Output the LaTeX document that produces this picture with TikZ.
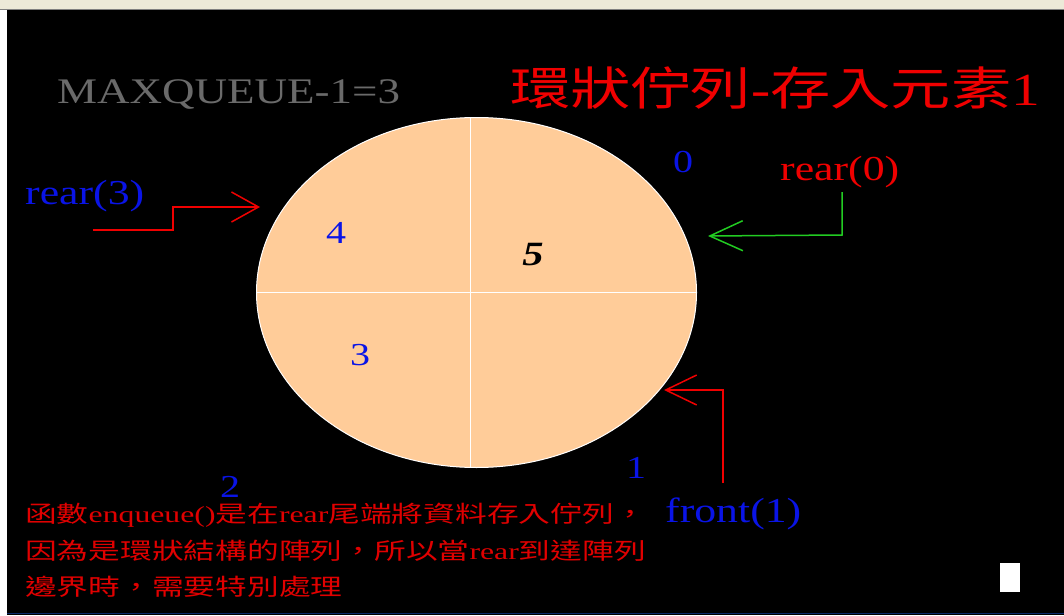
\documentclass[tikz,border=0pt]{standalone}
\usepackage{fontspec}
\setmainfont[FakeStretch=1.25]{Liberation Serif}
\newfontfamily\cjk[FakeStretch=1.31]{Noto Sans CJK TC}
\newfontfamily\cjkb[FakeStretch=1.38]{Noto Sans CJK TC}
\newfontfamily\serb[FakeStretch=1.38]{Liberation Serif}
\usetikzlibrary{arrows.meta,shapes.geometric}
\definecolor{peach}{HTML}{FFCC99}
\definecolor{qred}{HTML}{F00000}
\definecolor{dred}{HTML}{E00000}
\definecolor{qblue}{HTML}{0A14E6}
\definecolor{qgray}{HTML}{6A6A6A}
\definecolor{qgreen}{HTML}{22CC22}
\definecolor{menubar}{HTML}{ECE9D8}
\definecolor{bottomline}{HTML}{0A2A6A}
\tikzset{
  lbl/.style={inner sep=0pt, anchor=base west},
  num/.style={inner sep=0pt, text=qblue, font=\fontsize{32}{34}\selectfont},
  ptr/.style={line width=1.5pt, line join=miter},
  barb/.style={-{Straight Barb[length=#1, width=30pt, line width=1.5pt]}},
  bline/.style={lbl, text=dred, font=\fontsize{23}{26}\selectfont}
}
\begin{document}
\begin{tikzpicture}[x=1pt,y=-1pt]
\useasboundingbox (0,0) rectangle (1064,615);
% screen background
\fill[black] (0,0) rectangle (1064,615);
\fill[menubar] (0,0) rectangle (1064,9);
\draw[gray, line width=1pt] (0,9.5) -- (1064,9.5);
\fill[white] (0,10) rectangle (7,615);
\draw[bottomline, line width=1.5pt] (7,613.5) -- (1064,613.5);

% ring
\node[ellipse, fill=peach, draw=white, line width=1pt, minimum width=440pt, minimum height=350pt, inner sep=0pt] (ring) at (476.5,292.5) {};
\draw[white, line width=1pt] (ring.west) -- (ring.east);
\draw[white, line width=1pt] (470,117.5) -- (470,467.5);

% numbers
\node[num] (n4) at (336,233) {4};
\node[num] (n3) at (360,355) {3};
\node[num, text=black, font=\fontsize{34}{36}\selectfont\bfseries\itshape] (n5) at (533,255) {5};
\node[num] (n0) at (683,162) {0};
\node[num] (n1) at (636,468) {1};
\node[num] (n2) at (230,487) {2};

% titles
\node[lbl, text=qgray, font=\fontsize{36}{40}\selectfont] (maxq) at (57,103) {MAXQUEUE-1=3};
\node[lbl, text=qred, font=\fontsize{46}{50}\selectfont] (title) at (510,106) {{\cjk 環狀佇列}-{\cjk 存入元素}1};

% pointer labels
\node[lbl, text=qred, font=\fontsize{35}{38}\selectfont] (rear0) at (780,180) {rear(0)};
\node[lbl, text=qblue, font=\fontsize{35}{38}\selectfont] (rear3) at (25,204) {rear(3)};
\node[lbl, text=qblue, font=\fontsize{35}{38}\selectfont] (front1) at (665,522) {front(1)};

% arrows
\coordinate (r3s) at (93,230);
\coordinate (r3t) at (260,207);
\draw[ptr, qred, barb=27pt] (r3s) -- (173,230) -- (173,207) -- (r3t);
\coordinate (r0s) at (842,192);
\coordinate (r0t) at (708,236);
\draw[ptr, qgreen, barb=33pt] (r0s) -- (842,235) -- (r0t);
\coordinate (f1s) at (723,483);
\coordinate (f1t) at (664,390);
\draw[ptr, qred, barb=31pt] (f1s) -- (723,390) -- (f1t);

% explanation
\node[bline] (l1) at (25,522) {{\cjkb 函數}{\serb enqueue()}{\cjkb 是在}{\serb rear}{\cjkb 尾端將資料存入佇列，}};
\node[bline] (l2) at (25,559) {{\cjkb 因為是環狀結構的陣列，所以當}{\serb rear}{\cjkb 到達陣列}};
\node[bline] (l3) at (25,595) {{\cjkb 邊界時，需要特別處理}};

% cursor box
\fill[white] (1000,563) rectangle (1020,592);
\end{tikzpicture}
\end{document}
